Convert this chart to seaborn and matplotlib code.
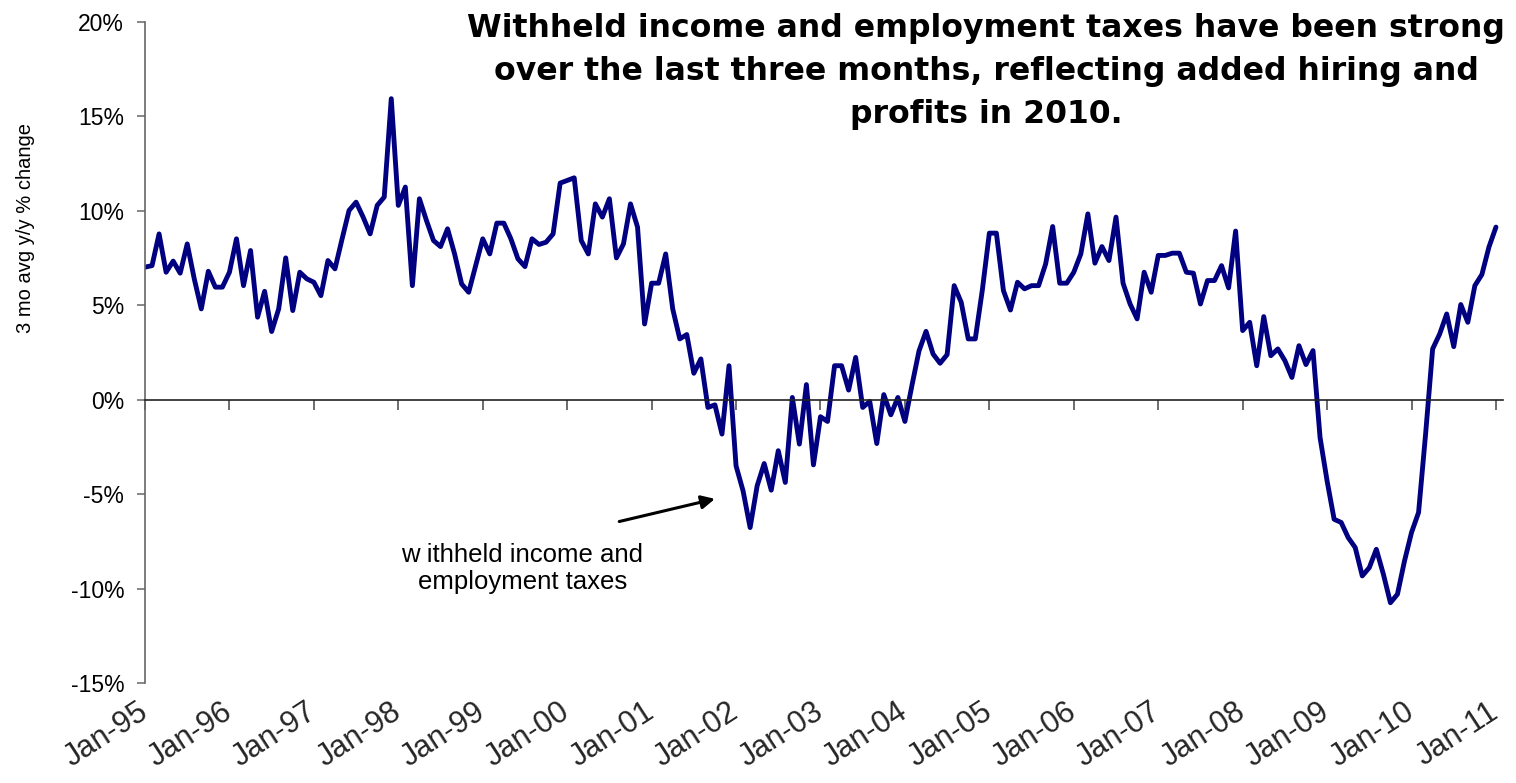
import numpy as np
import pandas as pd
import matplotlib
matplotlib.use("Agg")
import matplotlib.pyplot as plt
import seaborn as sns

# Withheld income and employment taxes, 3-month average, y/y % change (monthly, Jan-95 .. Jan-11)
withheld_yoy = [
    7.02, 7.10, 8.78, 6.75, 7.34, 6.70, 8.25, 6.40, 4.81, 6.80, 5.96, 5.96,     # 1995
    6.75, 8.52, 6.04, 7.90, 4.37, 5.74, 3.61, 4.81, 7.51, 4.72, 6.75, 6.40,     # 1996
    6.22, 5.51, 7.37, 6.93, 8.50, 10.02, 10.46, 9.67, 8.78, 10.29, 10.73, 15.94,  # 1997
    10.29, 11.26, 6.04, 10.64, 9.49, 8.43, 8.11, 9.05, 7.72, 6.13, 5.69, 7.10,  # 1998
    8.52, 7.72, 9.35, 9.35, 8.52, 7.46, 7.05, 8.52, 8.22, 8.34, 8.78, 11.47,    # 1999
    11.61, 11.75, 8.43, 7.72, 10.37, 9.67, 10.64, 7.51, 8.25, 10.37, 9.14, 4.01,  # 2000
    6.17, 6.17, 7.72, 4.81, 3.22, 3.45, 1.40, 2.16, -0.41, -0.27, -1.82, 1.80,  # 2001
    -3.50, -4.83, -6.77, -4.56, -3.38, -4.79, -2.70, -4.38, 0.12, -2.35, 0.80, -3.45,  # 2002
    -0.90, -1.15, 1.80, 1.80, 0.51, 2.24, -0.41, -0.09, -2.32, 0.27, -0.80, 0.12,  # 2003
    -1.15, 0.76, 2.58, 3.62, 2.42, 1.93, 2.39, 6.04, 5.16, 3.22, 3.22, 5.80,    # 2004
    8.82, 8.82, 5.78, 4.75, 6.22, 5.87, 6.04, 6.04, 7.19, 9.17, 6.17, 6.17,     # 2005
    6.75, 7.72, 9.84, 7.23, 8.11, 7.37, 9.67, 6.17, 5.07, 4.28, 6.75, 5.69,     # 2006
    7.64, 7.64, 7.76, 7.76, 6.75, 6.70, 5.07, 6.31, 6.31, 7.10, 5.92, 8.93,     # 2007
    3.66, 4.10, 1.80, 4.40, 2.33, 2.69, 2.07, 1.18, 2.86, 1.86, 2.60, -2.00,    # 2008
    -4.30, -6.33, -6.50, -7.30, -7.83, -9.33, -8.89, -7.92, -9.24, -10.75, -10.30, -8.54,  # 2009
    -7.03, -5.97, -1.82, 2.69, 3.48, 4.54, 2.81, 5.04, 4.10, 6.04, 6.63, 8.08,  # 2010
    9.14,                                                                       # 2011
]

year_labels = ["Jan-95", "Jan-96", "Jan-97", "Jan-98", "Jan-99", "Jan-00", "Jan-01",
               "Jan-02", "Jan-03", "Jan-04", "Jan-05", "Jan-06", "Jan-07", "Jan-08",
               "Jan-09", "Jan-10", "Jan-11"]
y_ticks = [-15, -10, -5, 0, 5, 10, 15, 20]

title_text = ("Withheld income and employment taxes have been strong\n"
              "over the last three months, reflecting added hiring and\n"
              "profits in 2010.")
series_label = "w ithheld income and\nemployment taxes"
y_axis_label = "3 mo avg y/y % change"

months = pd.date_range("1995-01-01", periods=len(withheld_yoy), freq="MS")
df = pd.DataFrame({
    "month": months,
    "idx": np.arange(len(withheld_yoy)),
    "yoy": withheld_yoy,
})

sns.set_theme(style="white")
plt.rcParams["font.family"] = ["Liberation Sans", "DejaVu Sans"]

W, H = 1516, 783
fig = plt.figure(figsize=(W / 100, H / 100), dpi=100)
ax = fig.add_axes([145 / W, 100 / H, (1503 - 145) / W, (683 - 22) / H])

sns.lineplot(data=df, x="idx", y="yoy", color="#000080", linewidth=3.5,
             ax=ax, legend=False)

ax.set_xlim(0, 193)
ax.set_ylim(-15, 20)
ax.set_xlabel("")
ax.set_ylabel("")

# y axis
ax.set_yticks(y_ticks)
ax.set_yticklabels([f"{t}%" for t in y_ticks], fontsize=16.5, color="black")
ax.tick_params(axis="y", direction="out", length=6, width=1.1, color="#666666",
               pad=9, left=True)
ax.spines["left"].set_color("#666666")
ax.spines["left"].set_linewidth(1.2)
ax.spines["right"].set_visible(False)
ax.spines["top"].set_visible(False)

# category axis crossing at zero, ticks below it, labels along the bottom
year_pos = np.arange(0, 12 * len(year_labels), 12)
ax.spines["bottom"].set_position(("data", 0))
ax.spines["bottom"].set_color("#222222")
ax.spines["bottom"].set_linewidth(1.2)
ax.set_xticks(year_pos)
ax.tick_params(axis="x", direction="out", length=7, width=1.1, color="#444444",
               bottom=True, labelbottom=False)

sec = ax.secondary_xaxis("bottom")
sec.set_xticks(year_pos)
sec.set_xticklabels(year_labels, rotation=33, ha="right", va="center",
                    rotation_mode="anchor", fontsize=22)
sec.tick_params(axis="x", length=0, pad=19)
sec.spines["bottom"].set_visible(False)

ax.grid(False)

# series annotation with arrow
ax.annotate("", xy=(81.0, -5.25), xytext=(67.4, -6.45),
            arrowprops=dict(arrowstyle="-|>", color="black", lw=2.2,
                            mutation_scale=20, shrinkA=0, shrinkB=0))
ax.text(53.6, -8.95, series_label, ha="center", va="center", fontsize=18.5,
        linespacing=1.15, color="black")

fig.text(26 / W, 1 - 228 / H, y_axis_label, rotation=90, ha="center",
         va="center", fontsize=14.5, color="black")

fig.text(986 / W, 1 - 13 / H, title_text, ha="center", va="top",
         fontsize=22.7, fontweight="bold", linespacing=1.5,
         family=["DejaVu Sans"], color="black")

fig.savefig("out.png", dpi=100, facecolor="white")
